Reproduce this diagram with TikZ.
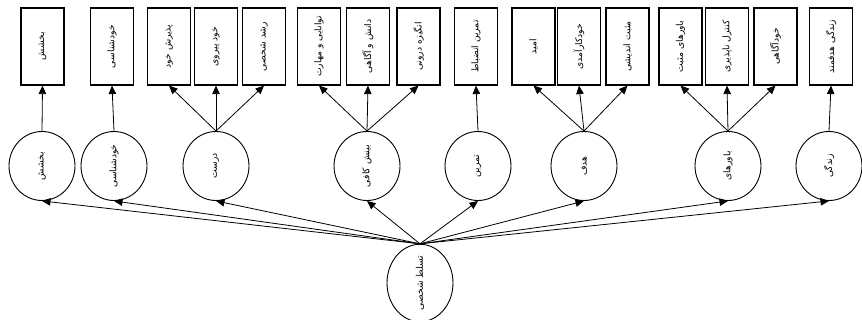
\documentclass[tikz,border=0pt]{standalone}
\usepackage{fontspec}
\usepackage{graphicx}
\usetikzlibrary{arrows.meta,shapes.geometric}
\TeXXeTstate=1
\newfontfamily\arfont[Script=Arabic]{DejaVu Sans}
\newcommand{\fa}[1]{\rotatebox{90}{\arfont\fontsize{9.2}{10}\selectfont\beginR #1\endR}}
\tikzset{
  leaf/.style={draw, line width=1.2pt, rectangle, minimum width=43pt, minimum height=77pt, inner sep=0pt},
  factor/.style={draw, line width=0.9pt, ellipse, minimum width=66pt, minimum height=69pt, inner sep=0pt},
  link/.style={line width=0.8pt, -{Triangle[length=8.5pt,width=7.5pt]}}
}
\begin{document}
\begin{tikzpicture}[x=1pt,y=1pt]
\useasboundingbox (0,0) rectangle (862,320);
% outer row of item boxes
\node[leaf] (b1)  at (42.5,273.5) {\fa{بخشش}};
\node[leaf] (b2)  at (112,273.5)  {\fa{خودشناسی}};
\node[leaf] (b3)  at (169,273.5)  {\fa{پذیرش خود}};
\node[leaf] (b4)  at (216,273.5)  {\fa{خود پیروی}};
\node[leaf] (b5)  at (264,273.5)  {\fa{رشد شخصی}};
\node[leaf] (b6)  at (319,273.5)  {\fa{توانایی و مهارت}};
\node[leaf] (b7)  at (368,273.5)  {\fa{دانش و آگاهی}};
\node[leaf] (b8)  at (418.5,273.5){\fa{انگیزه درونی}};
\node[leaf] (b9)  at (476,273.5)  {\fa{تمرین انضباط}};
\node[leaf] (b10) at (533.5,273.5){\fa{امید}};
\node[leaf] (b11) at (579,273.5)  {\fa{خودکارآمدی}};
\node[leaf] (b12) at (627.5,273.5){\fa{مثبت اندیشی}};
\node[leaf] (b13) at (680.5,273.5){\fa{باورهای مثبت}};
\node[leaf] (b14) at (727,273.5)  {\fa{کنترل ناپذیری}};
\node[leaf] (b15) at (775.5,273.5){\fa{خودآگاهی}};
\node[leaf] (b16) at (831,273.5)  {\fa{زندگی هدفمند}};
% middle row of factors
\node[factor] (c1) at (42,154)  {\fa{بخشش}};
\node[factor] (c2) at (114,154) {\fa{خودشناسی}};
\node[factor] (c3) at (216,154) {\fa{درست}};
\node[factor] (c4) at (367,154) {\fa{بینش کافی}};
\node[factor] (c5) at (478,154) {\fa{تمرین}};
\node[factor] (c6) at (584,154) {\fa{هدف}};
\node[factor] (c7) at (728,154) {\fa{باورهای}};
\node[factor] (c8) at (829,154) {\fa{زندگی}};
% root
\node[factor, minimum height=72pt] (root) at (420,37) {\fa{تسلط شخصی}};
% root to factors
\foreach \c in {c1,c2,c3,c4,c5,c6,c7,c8}
  \draw[link] (root.north) -- (\c.south);
% factors to items
\draw[link] (c1.north) -- (b1.south);
\draw[link] (c2.north) -- (b2.south);
\foreach \b in {b3,b4,b5} \draw[link] (c3.north) -- (\b.south);
\foreach \b in {b6,b7,b8} \draw[link] (c4.north) -- (\b.south);
\draw[link] (c5.north) -- (b9.south);
\foreach \b in {b10,b11,b12} \draw[link] (c6.north) -- (\b.south);
\foreach \b in {b13,b14,b15} \draw[link] (c7.north) -- (\b.south);
\draw[link] (c8.north) -- (b16.south);
\end{tikzpicture}
\end{document}
